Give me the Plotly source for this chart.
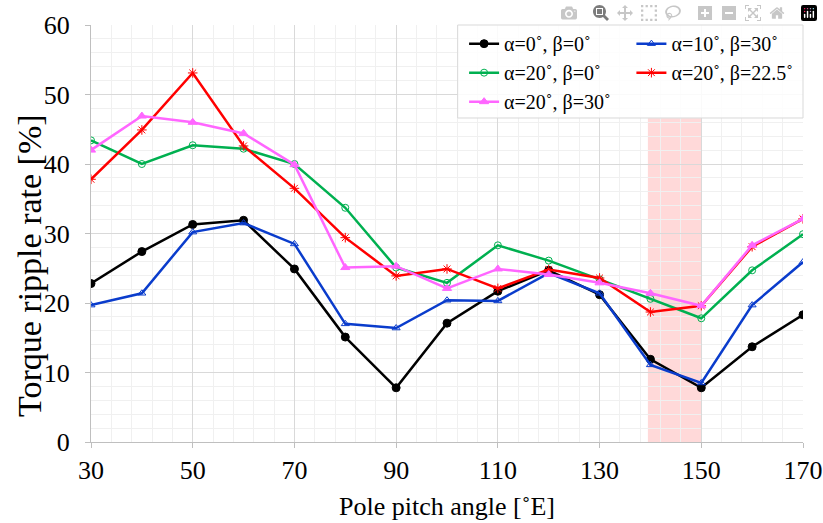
import plotly.graph_objects as go

x = [30, 40, 50, 60, 70, 80, 90, 100, 110, 120, 130, 140, 150, 160, 170]
s_a0_b0 = [22.8, 27.4, 31.3, 31.9, 24.9, 15.1, 7.8, 17.1, 21.7, 24.7, 21.2, 11.9, 7.8, 13.7, 18.3]
s_a10_b30 = [19.7, 21.4, 30.2, 31.5, 28.5, 17.0, 16.4, 20.4, 20.3, 24.3, 21.4, 11.1, 8.5, 19.7, 25.9]
s_a20_b0 = [43.4, 40.0, 42.7, 42.2, 40.0, 33.7, 25.1, 22.9, 28.3, 26.1, 23.4, 20.6, 17.8, 24.7, 29.9]
s_a20_b225 = [37.8, 44.9, 53.1, 42.6, 36.5, 29.4, 23.9, 24.9, 22.1, 24.8, 23.6, 18.7, 19.6, 28.1, 32.1]
s_a20_b30 = [42.0, 46.9, 46.0, 44.4, 39.9, 25.1, 25.3, 22.1, 24.9, 24.1, 22.9, 21.4, 19.6, 28.3, 32.1]

names = ["α=0˚, β=0˚", "α=10˚, β=30˚", "α=20˚, β=0˚", "α=20˚, β=22.5˚", "α=20˚, β=30˚"]
series = [s_a0_b0, s_a10_b30, s_a20_b0, s_a20_b225, s_a20_b30]
colors = ["#000000", "#0a3ccc", "#00b050", "#ff0000", "#ff66ff"]
symbols = ["circle", "triangle-up-open", "circle-open", "asterisk-open", "triangle-up"]
sizes = [8, 7, 7, 8, 8]
legend_ids = ["legend", "legend2", "legend", "legend2", "legend"]

band_x = [139.5, 150]
band_y = [0, 46.6]

fig = go.Figure()
for n, s, c, m, sz, lg in zip(names, series, colors, symbols, sizes, legend_ids):
    fig.add_trace(go.Scatter(
        x=x, y=s, name=n, mode="lines+markers", legend=lg,
        line=dict(color=c, width=2.5),
        marker=dict(symbol=m, size=sz, color=c, line=dict(color=c, width=1)),
    ))

fig.add_shape(type="rect", xref="x", yref="y", x0=band_x[0], x1=band_x[1],
              y0=band_y[0], y1=band_y[1], fillcolor="rgba(255,80,80,0.22)",
              line=dict(width=0), layer="below")

# legend frame
fig.add_shape(type="rect", xref="paper", yref="paper", x0=0.515, x1=1.0,
              y0=0.777, y1=1.0, fillcolor="rgba(255,255,255,0.85)",
              line=dict(color="#d9d9d9", width=1), layer="above")

font_family = "Liberation Serif"
leg_common = dict(
    orientation="v", y=1.002, yanchor="top", xanchor="left",
    bgcolor="rgba(0,0,0,0)", borderwidth=0,
    font=dict(family=font_family, size=20), itemwidth=30, tracegroupgap=0,
)
fig.add_annotation(
    text="Torque ripple rate [%]", textangle=-90, showarrow=False,
    xref="paper", yref="paper", x=-0.0857, y=0.4245, xanchor="center", yanchor="middle",
    font=dict(family=font_family, size=34, color="#000000"),
)
fig.update_layout(
    width=823, height=523,
    margin=dict(l=91, r=20, t=25, b=81),
    plot_bgcolor="white", paper_bgcolor="white",
    font=dict(family=font_family, size=26, color="#000000"),
    showlegend=True,
    legend=dict(x=0.524, **leg_common),
    legend2=dict(x=0.759, **leg_common),
    xaxis=dict(
        range=[30, 170], dtick=20, tick0=30, automargin=False,
        ticklabeloverflow="allow",
        showgrid=True, gridcolor="#d9d9d9", gridwidth=1,
        showline=True, linecolor="#bfbfbf", linewidth=1,
        ticks="outside", ticklen=5, tickcolor="#bfbfbf",
        zeroline=False,
        minor=dict(dtick=4, tick0=30, showgrid=True, gridcolor="#f0f0f0", gridwidth=1),
        title=dict(text="Pole pitch angle [˚E]", font=dict(size=26), standoff=12),
        tickfont=dict(size=26),
    ),
    yaxis=dict(
        range=[0, 60], dtick=10, automargin=False,
        showgrid=True, gridcolor="#d9d9d9", gridwidth=1,
        showline=True, linecolor="#bfbfbf", linewidth=1,
        ticks="outside", ticklen=5, tickcolor="#bfbfbf",
        zeroline=False, ticklabelstandoff=10,
        minor=dict(dtick=2, showgrid=True, gridcolor="#f0f0f0", gridwidth=1),
        tickfont=dict(size=26),
    ),
)

fig.write_html(
    "out.html",
    post_script=(
        "document.body.style.margin='0';"
        "document.body.style.padding='0';"
        "document.documentElement.style.overflow='hidden';"
        "document.body.style.overflow='hidden';"
    ),
)
